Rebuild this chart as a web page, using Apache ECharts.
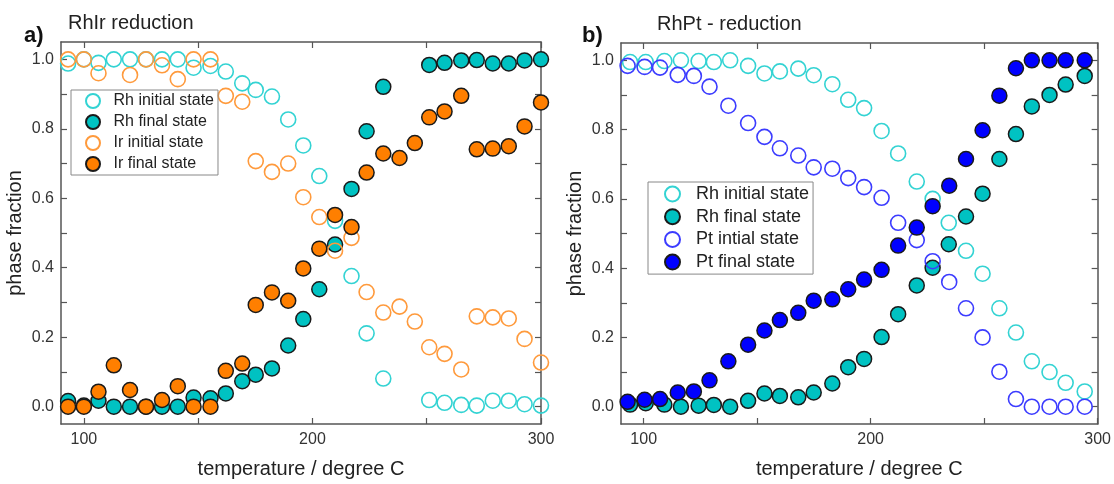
<!DOCTYPE html>
<html>
<head>
<meta charset="utf-8">
<script src="https://cdn.jsdelivr.net/npm/echarts@6/dist/echarts.min.js"></script>
<style>
  body { margin: 0; background: #fff; }
  #chart { width: 1114px; height: 484px; }
</style>
</head>
<body>
<div id="chart"></div>
<script>
// ---- data ----
// panel a) RhIr reduction
const tempA = [93.1, 100, 106.4, 113.1, 120.2, 127.2, 134.2, 141.1, 148.0, 155.4, 162.1, 169.3, 175.2, 182.3, 189.4, 196.0,
  203.0, 209.9, 217.1, 223.7, 231.0, 238.1, 244.8, 251.1, 257.8, 265.1, 271.9, 278.9, 285.9, 292.8, 300.0];
const rhInitA = [0.988, 1.0, 0.99, 1.0, 1.0, 1.0, 1.0, 1.0, 0.976, 0.981, 0.965, 0.931, 0.912, 0.893, 0.827, 0.752,
  0.664, 0.535, 0.376, 0.211, 0.081, null, null, 0.019, 0.011, 0.005, 0.003, 0.017, 0.017, 0.007, 0.003];
const rhFinalA = [0.016, 0.003, 0.017, 0.0, 0.0, 0.0, 0.0, 0.0, 0.026, 0.024, 0.038, 0.073, 0.092, 0.110, 0.176, 0.252,
  0.338, 0.467, 0.627, 0.793, 0.921, null, null, 0.984, 0.99, 0.997, 0.998, 0.988, 0.988, 0.997, 1.0];
const irInitA = [1.0, 1.0, 0.96, null, 0.955, 1.0, 0.983, 0.943, 1.0, 1.0, 0.895, 0.878, 0.707, 0.676, 0.70, 0.603,
  0.546, 0.449, 0.486, 0.330, 0.271, 0.288, 0.245, 0.171, 0.152, 0.107, 0.26, 0.257, 0.254, 0.195, 0.127];
const irFinalA = [0.0, 0.0, 0.043, 0.119, 0.048, 0.0, 0.019, 0.059, 0.0, 0.0, 0.103, 0.124, 0.293, 0.329, 0.305, 0.398,
  0.455, 0.552, 0.517, 0.674, 0.729, 0.716, 0.759, 0.833, 0.85, 0.895, 0.741, 0.743, 0.75, 0.807, 0.876];

// panel b) RhPt - reduction
const tempRhB = [94.0, 100.9, 109.1, 116.4, 124.2, 130.9, 138.1, 146.0, 153.2, 160.0, 168.1, 174.9, 183.1, 190.1,
  197.1, 204.8, 212.1, 220.3, 227.3, 234.4, 242.0, 249.3, 256.7, 264.0, 271.0, 278.8, 285.9, 294.3];
const tempPtB = [92.9, 100.4, 107.2, 115.0, 122.1, 129.0, 137.3, 146.0, 153.2, 160.0, 168.1, 174.9, 183.1, 190.1,
  197.1, 204.8, 212.1, 220.3, 227.3, 234.6, 242.0, 249.3, 256.7, 264.0, 271.0, 278.8, 285.9, 294.3];
const rhInitB = [0.995, 0.995, 0.998, 1.0, 0.998, 0.995, 1.0, 0.984, 0.962, 0.968, 0.976, 0.957, 0.931, 0.886,
  0.862, 0.796, 0.731, 0.650, 0.60, 0.531, 0.45, 0.384, 0.284, 0.214, 0.131, 0.10, 0.069, 0.044];
const rhFinalB = [0.006, 0.01, 0.006, 0.0, 0.003, 0.005, 0.0, 0.017, 0.038, 0.031, 0.027, 0.041, 0.067, 0.114,
  0.138, 0.201, 0.267, 0.35, 0.401, 0.469, 0.549, 0.615, 0.715, 0.787, 0.867, 0.90, 0.93, 0.955];
const ptInitB = [0.984, 0.981, 0.979, 0.958, 0.955, 0.924, 0.869, 0.819, 0.779, 0.746, 0.725, 0.691, 0.687, 0.66,
  0.634, 0.603, 0.531, 0.481, 0.42, 0.36, 0.284, 0.20, 0.101, 0.022, 0.0, 0.0, 0.0, 0.0];
const ptFinalB = [0.014, 0.02, 0.022, 0.041, 0.044, 0.076, 0.131, 0.179, 0.22, 0.25, 0.271, 0.306, 0.31, 0.339,
  0.367, 0.395, 0.465, 0.517, 0.579, 0.638, 0.715, 0.798, 0.898, 0.977, 1.0, 1.0, 1.0, 1.0];

// axis ticks and labels
const xTicks = [100, 150, 200, 250, 300];
const xLabels = [100, 200, 300];
const yTicks = [0, 0.1, 0.2, 0.3, 0.4, 0.5, 0.6, 0.7, 0.8, 0.9, 1.0];
const yLabels = [0, 0.2, 0.4, 0.6, 0.8, 1.0];

const FONT = '"Liberation Sans", Arial, sans-serif';
const AXIS_COLOR = '#555';

function pairs(xs, ys) {
  const out = [];
  xs.forEach((x, i) => {
    if (ys[i] !== null) out.push([x, ys[i]]);
  });
  return out;
}

function hollow(name, color, xs, ys, idx) {
  return {
    name, type: 'scatter', xAxisIndex: idx * 2, yAxisIndex: idx * 2,
    symbol: 'circle', symbolSize: 15,
    itemStyle: { color: 'rgba(255,255,255,0)', borderColor: color, borderWidth: 1.6, opacity: 1 },
    data: pairs(xs, ys)
  };
}

function filled(name, color, xs, ys, idx) {
  return {
    name, type: 'scatter', xAxisIndex: idx * 2, yAxisIndex: idx * 2,
    symbol: 'circle', symbolSize: 15,
    itemStyle: { color, borderColor: '#1a1a1a', borderWidth: 1.5, opacity: 1 },
    data: pairs(xs, ys)
  };
}

function xAxes(g) {
  const base = {
    type: 'value', gridIndex: g, min: 90, max: 300,
    axisLine: { show: true, onZero: false, lineStyle: { color: AXIS_COLOR, width: 1.5 } },
    axisTick: { show: true, inside: true, length: 6, customValues: xTicks, lineStyle: { color: AXIS_COLOR, width: 1.2 } },
    splitLine: { show: false }
  };
  return [
    Object.assign({}, base, {
      position: 'bottom',
      name: 'temperature / degree C', nameLocation: 'middle', nameGap: 35,
      nameTextStyle: { fontFamily: FONT, fontSize: 20, color: '#222' },
      axisLabel: { customValues: xLabels, margin: 8, fontFamily: FONT, fontSize: 16, color: '#333' }
    }),
    Object.assign({}, base, { position: 'top', axisLabel: { show: false } })
  ];
}

function yAxes(g) {
  const base = {
    type: 'value', gridIndex: g, min: -0.05, max: 1.05,
    axisLine: { show: true, onZero: false, lineStyle: { color: AXIS_COLOR, width: 1.5 } },
    axisTick: { show: true, inside: true, length: 6, customValues: yTicks, lineStyle: { color: AXIS_COLOR, width: 1.2 } },
    splitLine: { show: false }
  };
  return [
    Object.assign({}, base, {
      position: 'left',
      name: 'phase fraction', nameLocation: 'middle', nameGap: 36,
      nameTextStyle: { fontFamily: FONT, fontSize: 20, color: '#222' },
      axisLabel: {
        customValues: yLabels, margin: 7, fontFamily: FONT, fontSize: 16, color: '#333',
        formatter: v => v.toFixed(1)
      }
    }),
    Object.assign({}, base, { position: 'right', axisLabel: { show: false } })
  ];
}

const chart = echarts.init(document.getElementById('chart'), null, { renderer: 'canvas' });

const option = {
  animation: false,
  backgroundColor: '#fff',
  title: [
    { text: 'a)', left: 19, top: 20, textStyle: { fontFamily: FONT, fontSize: 22, fontWeight: 'bold', color: '#111' } },
    { text: 'RhIr reduction', left: 63, top: 8, textStyle: { fontFamily: FONT, fontSize: 20, fontWeight: 'normal', color: '#222' } },
    { text: 'b)', left: 577, top: 20, textStyle: { fontFamily: FONT, fontSize: 22, fontWeight: 'bold', color: '#111' } },
    { text: 'RhPt - reduction', left: 652, top: 9, textStyle: { fontFamily: FONT, fontSize: 20, fontWeight: 'normal', color: '#222' } }
  ],
  grid: [
    { left: 61, right: 573, top: 42, bottom: 56 },
    { left: 621, right: 10, top: 43, bottom: 55 }
  ],
  xAxis: xAxes(0).concat(xAxes(1)),
  yAxis: yAxes(0).concat(yAxes(1)),
  legend: [
    {
      orient: 'vertical', left: 71, top: 90,
      data: ['Rh initial state', 'Rh final state', 'Ir initial state', 'Ir final state'],
      itemWidth: 31, itemHeight: 14, itemGap: 5,
      padding: [3, 4, 3, 14],
      borderColor: '#888', borderWidth: 1,
      selectedMode: false,
      textStyle: { fontFamily: FONT, fontSize: 16, color: '#222' }
    },
    {
      orient: 'vertical', left: 648, top: 182,
      data: ['Rh initial state', 'Rh final state', 'Pt intial state', 'Pt final state'],
      itemWidth: 37, itemHeight: 15, itemGap: 4.7,
      padding: [3, 4, 3, 16],
      borderColor: '#888', borderWidth: 1,
      selectedMode: false,
      textStyle: { fontFamily: FONT, fontSize: 18, color: '#222' }
    }
  ],
  series: [
    hollow('Rh initial state', '#33d3d3', tempA, rhInitA, 0),
    filled('Rh final state', '#00c2c2', tempA, rhFinalA, 0),
    hollow('Ir initial state', '#ff9a3c', tempA, irInitA, 0),
    filled('Ir final state', '#ff7f00', tempA, irFinalA, 0),
    hollow('Rh initial state', '#33d3d3', tempRhB, rhInitB, 1),
    filled('Rh final state', '#00c2c2', tempRhB, rhFinalB, 1),
    hollow('Pt intial state', '#3c3cff', tempPtB, ptInitB, 1),
    filled('Pt final state', '#0000ff', tempPtB, ptFinalB, 1)
  ]
};

chart.setOption(option);
</script>
</body>
</html>
